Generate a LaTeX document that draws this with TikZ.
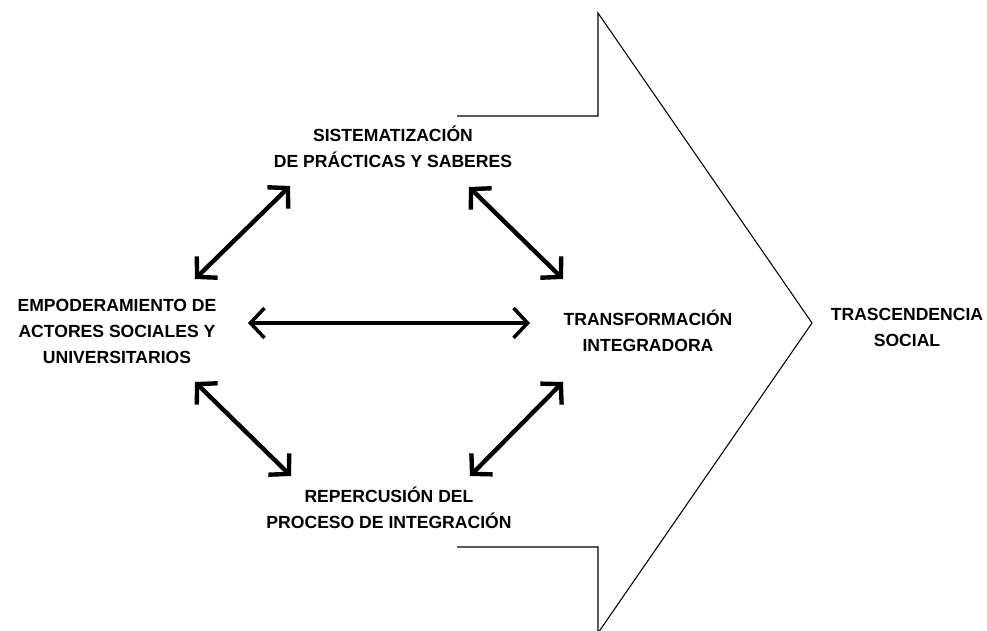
\documentclass[tikz,border=0pt]{standalone}
\usepackage{fontspec}
\setmainfont{Liberation Sans}
\usetikzlibrary{arrows.meta}

\tikzset{
  tag/.style={font=\bfseries\fontsize{10}{14.8}\selectfont, align=center, inner sep=0pt},
  barb/.tip={Straight Barb[sharp, length=8pt, width=17pt]},
  twoway/.style={line width=2.5pt, barb-barb}
}

\begin{document}
\begin{tikzpicture}[x=0.02cm, y=-0.02cm]
  \useasboundingbox (0,0) rectangle (987,631);
  % big arrow
  \draw[line width=0.6pt] (457,116) -- (598,116) -- (598,13) -- (812,323) --
                          (598,633) -- (598,547) -- (457,547);

  \node[tag] (sist) at (393,147) {SISTEMATIZACIÓN\\DE PRÁCTICAS Y SABERES};
  \node[tag] (emp)  at (117,331) {EMPODERAMIENTO DE\\ACTORES SOCIALES Y\\UNIVERSITARIOS};
  \node[tag] (trans) at (648,331) {TRANSFORMACIÓN\\INTEGRADORA};
  \node[tag] (rep)  at (389,508) {REPERCUSIÓN DEL\\PROCESO DE INTEGRACIÓN};
  \node[tag] (tras) at (907,327) {TRASCENDENCIA\\SOCIAL};

  \coordinate (emp-ne)   at (195,279);
  \coordinate (sist-sw)  at (290,186);
  \coordinate (sist-se)  at (469,187);
  \coordinate (trans-nw) at (563,279);
  \coordinate (emp-e)    at (248,323);
  \coordinate (trans-w)  at (530,323);
  \coordinate (emp-se)   at (195,382);
  \coordinate (rep-nw)   at (291,476);
  \coordinate (rep-ne)   at (470,476);
  \coordinate (trans-sw) at (563,382);

  \draw[twoway] (emp-ne) -- (sist-sw);
  \draw[twoway] (sist-se) -- (trans-nw);
  \draw[twoway, line width=2pt] (emp-e) -- (trans-w);
  \draw[twoway] (emp-se) -- (rep-nw);
  \draw[twoway] (rep-ne) -- (trans-sw);
\end{tikzpicture}
\end{document}
